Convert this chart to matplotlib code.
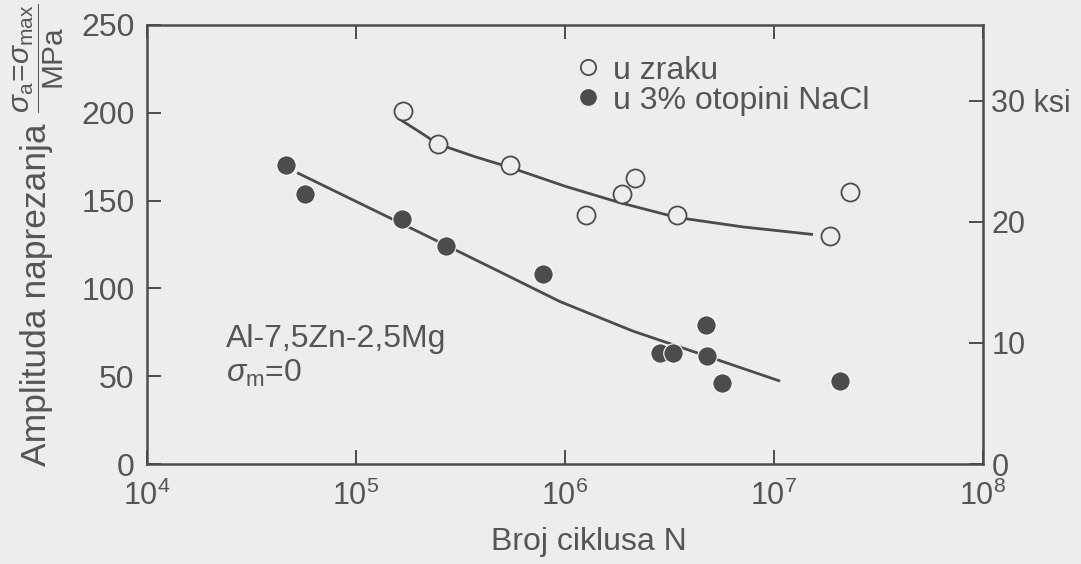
import matplotlib
matplotlib.use('Agg')
import matplotlib.pyplot as plt
from matplotlib.lines import Line2D
from matplotlib.ticker import FixedLocator, NullLocator, FixedFormatter

plt.rcParams['font.family'] = ['Liberation Sans', 'DejaVu Sans']
plt.rcParams['mathtext.fontset'] = 'custom'
plt.rcParams['mathtext.rm'] = 'Liberation Sans'
plt.rcParams['mathtext.it'] = 'Liberation Sans:italic'
plt.rcParams['mathtext.bf'] = 'Liberation Sans:bold'

# ---------------- data ----------------
# fatigue tests in air (open circles)
air_N = [1.68e5, 2.47e5, 5.46e5, 1.26e6, 1.87e6, 2.16e6, 3.44e6, 1.85e7, 2.31e7]
air_S = [201, 182, 170, 142, 154, 163, 142, 130, 155]
# fatigue tests in 3% NaCl solution (filled circles)
nacl_N = [4.63e4, 5.7e4, 1.66e5, 2.7e5, 7.85e5, 2.85e6, 3.29e6, 4.73e6, 4.78e6, 5.64e6, 2.07e7]
nacl_S = [170, 154, 139.5, 124, 108, 63, 63, 79, 61.5, 46, 47]
# hand-drawn trend curves
air_curve_N = [1.589e5, 2.023e5, 2.466e5, 3.707e5, 5.458e5, 1.0e6, 1.832e6, 3.436e6, 7.11e6, 1.538e7]
air_curve_S = [196.9, 189.0, 182.2, 175.0, 168.9, 158.2, 148.8, 140.4, 135.0, 130.7]
nacl_curve_N = [5.224e4, 2.723e5, 4.887e5, 9.46e5, 2.113e6, 4.775e6, 1.069e7]
nacl_curve_S = [165.9, 124.3, 109.4, 92.5, 75.7, 61.4, 47.2]

x_ticks = [1e4, 1e5, 1e6, 1e7, 1e8]
y_ticks = [0, 50, 100, 150, 200, 250]
ksi_ticks = [0, 10, 20, 30]
ksi_labels = ['0', '10', '20', '30 ksi']
legend_labels = ['u zraku', 'u 3% otopini NaCl']
MPA_PER_KSI = 6.894757

# ---------------- style ----------------
BG = '#ededed'
INK = '#4c4c4c'
TXT = '#555555'

fig = plt.figure(figsize=(10.81, 5.64), dpi=100, facecolor=BG)
ax = fig.add_axes([147/1081, 100/564, 836/1081, 439/564])
ax.set_facecolor(BG)

ax.set_xscale('log')
ax.set_xlim(1e4, 1e8)
ax.set_ylim(0, 250)

ax.plot(air_curve_N, air_curve_S, color=INK, lw=2.0, zorder=2, solid_capstyle='butt')
ax.plot(nacl_curve_N, nacl_curve_S, color=INK, lw=2.0, zorder=2, solid_capstyle='butt')
ax.plot(air_N, air_S, 'o', ms=13, mfc=BG, mec=INK, mew=1.3, zorder=3, label=legend_labels[0])
ax.plot(nacl_N, nacl_S, 'o', ms=14, mfc=INK, mec='white', mew=0.8, zorder=4, label=legend_labels[1])

# ticks
ax.xaxis.set_major_locator(FixedLocator(x_ticks))
ax.xaxis.set_minor_locator(NullLocator())
ax.yaxis.set_major_locator(FixedLocator(y_ticks))
ax.tick_params(axis='both', which='major', direction='in', length=10, width=1.4,
               color=INK, labelcolor=TXT, labelsize=23, top=True, right=False)
ax.tick_params(axis='x', pad=12, labelsize=22)
ax.tick_params(axis='y', pad=9)

for s in ax.spines.values():
    s.set_color(INK)
    s.set_linewidth(1.8)

ax2 = ax.twinx()
ax2.set_ylim(0, 250 / MPA_PER_KSI)
ax2.yaxis.set_major_locator(FixedLocator(ksi_ticks))
ax2.yaxis.set_major_formatter(FixedFormatter(ksi_labels))
ax2.tick_params(axis='y', direction='in', length=10, width=1.4, color=INK,
                labelcolor=TXT, labelsize=22, pad=6)
for s in ax2.spines.values():
    s.set_visible(False)

# axis labels
ax.set_xlabel('Broj ciklusa N', fontsize=23, color=TXT)
ax.xaxis.set_label_coords(0.529, -0.1435)
ax.set_ylabel('Amplituda naprezanja', fontsize=25.5, color=TXT)
ax.yaxis.set_label_coords(-0.112, 0.385)
fig.text(39/1081, 1 - 58/564,
         r'$\dfrac{\sigma_{\mathrm{a}}\!=\!\sigma_{\mathrm{max}}}{\mathrm{MPa}}$',
         rotation=90, ha='center', va='center', fontsize=21.5, color=TXT)

ax.text(0.0945, 0.2665, 'Al-7,5Zn-2,5Mg', transform=ax.transAxes, fontsize=23,
        color=TXT, ha='left', va='baseline')
ax.text(0.0945, 0.187, r'$\sigma_{\mathrm{m}}$=0', transform=ax.transAxes, fontsize=23,
        color=TXT, ha='left', va='baseline')

handles = [Line2D([], [], ls='none', marker='o', ms=11, mfc=BG, mec=INK, mew=1.3),
           Line2D([], [], ls='none', marker='o', ms=11, mfc=INK, mec=INK, mew=1.0)]
leg = ax.legend(handles, legend_labels, loc='upper left', bbox_to_anchor=(0.5084, 0.9305),
                frameon=False, fontsize=23, handlelength=1.0, handletextpad=0.28,
                labelspacing=0.0, borderpad=0, borderaxespad=0)
for t in leg.get_texts():
    t.set_color(TXT)

fig.savefig('out.png', dpi=100, facecolor=BG)
